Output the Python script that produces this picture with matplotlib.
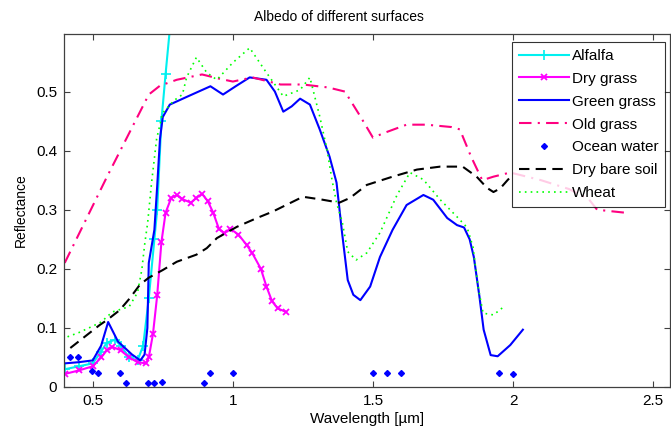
import matplotlib
matplotlib.use("Agg")
import matplotlib.pyplot as plt

plt.rcParams['font.family'] = ['Liberation Sans', 'DejaVu Sans']

# spectral reflectance curves, wavelength in micrometres
alfalfa_x = [0.40, 0.45, 0.50, 0.53, 0.55, 0.58, 0.60, 0.63, 0.66, 0.68, 0.70,
             0.72, 0.73, 0.745, 0.76, 0.78, 0.80]
alfalfa_y = [0.03, 0.035, 0.04, 0.06, 0.075, 0.08, 0.07, 0.05, 0.045, 0.07, 0.15,
             0.25, 0.30, 0.45, 0.53, 0.63, 0.72]

drygrass_x = [0.40, 0.45, 0.50, 0.53, 0.55, 0.57, 0.60, 0.63, 0.66, 0.69, 0.70,
              0.715, 0.73, 0.745, 0.76, 0.78, 0.80, 0.82, 0.85, 0.87, 0.89, 0.91,
              0.93, 0.95, 0.97, 0.99, 1.02, 1.05, 1.07, 1.10, 1.12, 1.14, 1.16, 1.19]
drygrass_y = [0.022, 0.028, 0.035, 0.05, 0.062, 0.068, 0.062, 0.05, 0.042, 0.04, 0.05,
              0.09, 0.155, 0.245, 0.295, 0.32, 0.325, 0.318, 0.312, 0.32, 0.327, 0.315,
              0.295, 0.268, 0.26, 0.268, 0.258, 0.24, 0.226, 0.2, 0.17, 0.145, 0.133, 0.127]

greengrass_x = [0.40, 0.45, 0.50, 0.53, 0.555, 0.59, 0.64, 0.67, 0.685, 0.695, 0.70,
                0.72, 0.73, 0.74, 0.75, 0.775, 0.84, 0.92, 0.965, 1.01, 1.06, 1.12,
                1.15, 1.18, 1.21, 1.24, 1.275, 1.31, 1.345, 1.37, 1.39, 1.41, 1.43,
                1.455, 1.49, 1.525, 1.57, 1.62, 1.68, 1.715, 1.765, 1.80, 1.825,
                1.845, 1.86, 1.88, 1.895, 1.92, 1.945, 1.99, 2.035]
greengrass_y = [0.04, 0.042, 0.045, 0.07, 0.11, 0.077, 0.055, 0.045, 0.055, 0.1, 0.21,
                0.266, 0.34, 0.42, 0.457, 0.478, 0.492, 0.509, 0.495, 0.509, 0.524, 0.52,
                0.50, 0.466, 0.475, 0.488, 0.478, 0.436, 0.39, 0.346, 0.26, 0.181, 0.156,
                0.147, 0.17, 0.22, 0.266, 0.308, 0.325, 0.317, 0.286, 0.274, 0.27,
                0.25, 0.22, 0.153, 0.097, 0.054, 0.052, 0.071, 0.097]

oldgrass_x = [0.40, 0.55, 0.70, 0.74, 0.80, 0.89, 0.95, 1.00, 1.07, 1.17, 1.25, 1.34,
              1.40, 1.455, 1.50, 1.54, 1.62, 1.69, 1.78, 1.81, 1.85, 1.89, 1.93, 1.99,
              2.10, 2.20, 2.27, 2.30, 2.40]
oldgrass_y = [0.21, 0.355, 0.495, 0.51, 0.52, 0.529, 0.522, 0.517, 0.524, 0.512, 0.512, 0.507,
              0.5, 0.458, 0.422, 0.43, 0.444, 0.444, 0.44, 0.436, 0.39, 0.35, 0.356, 0.363,
              0.35, 0.335, 0.318, 0.30, 0.295]

ocean_x = [0.42, 0.446, 0.497, 0.52, 0.596, 0.62, 0.696, 0.72, 0.746, 0.896, 0.92, 1.0,
           1.5, 1.55, 1.6, 1.95, 2.0]
ocean_y = [0.051, 0.051, 0.027, 0.024, 0.024, 0.007, 0.007, 0.007, 0.009, 0.007, 0.024, 0.024,
           0.024, 0.024, 0.024, 0.024, 0.022]

soil_x = [0.42, 0.525, 0.55, 0.596, 0.632, 0.668, 0.70, 0.75, 0.80, 0.87, 0.907, 0.943,
          1.014, 1.086, 1.143, 1.19, 1.25, 1.32, 1.38, 1.418, 1.478, 1.57, 1.657, 1.74,
          1.82, 1.87, 1.907, 1.93, 1.954, 1.98, 2.0]
soil_y = [0.066, 0.105, 0.113, 0.13, 0.15, 0.173, 0.185, 0.198, 0.212, 0.224, 0.235, 0.252,
          0.271, 0.286, 0.297, 0.308, 0.322, 0.317, 0.312, 0.32, 0.342, 0.356, 0.368, 0.373,
          0.373, 0.356, 0.337, 0.33, 0.336, 0.35, 0.36]

wheat_x = [0.41, 0.45, 0.50, 0.53, 0.57, 0.63, 0.66, 0.675, 0.686, 0.696, 0.71, 0.728,
           0.75, 0.79, 0.82, 0.835, 0.87, 0.907, 0.943, 1.0, 1.06, 1.12, 1.18, 1.24,
           1.275, 1.31, 1.336, 1.354, 1.37, 1.39, 1.41, 1.44, 1.478, 1.525, 1.586,
           1.632, 1.68, 1.74, 1.80, 1.836, 1.857, 1.875, 1.893, 1.93, 1.97]
wheat_y = [0.085, 0.092, 0.103, 0.11, 0.127, 0.136, 0.16, 0.198, 0.244, 0.278, 0.346, 0.42,
           0.464, 0.485, 0.495, 0.524, 0.558, 0.532, 0.52, 0.549, 0.574, 0.532, 0.492, 0.503,
           0.524, 0.458, 0.402, 0.35, 0.312, 0.28, 0.229, 0.215, 0.227, 0.261, 0.325,
           0.363, 0.351, 0.317, 0.288, 0.27, 0.237, 0.17, 0.125, 0.122, 0.137]

x_ticks = [0.5, 1, 1.5, 2, 2.5]
y_ticks = [0, 0.1, 0.2, 0.3, 0.4, 0.5]

fig = plt.figure(figsize=(6.71, 4.34), dpi=100)
ax = fig.add_axes([0.0954, 0.1083, 0.9031, 0.8134])

ax.plot(alfalfa_x, alfalfa_y, '-', color='#00f0f0', lw=1.5, marker='+', ms=7, mew=1.2,
        label='Alfalfa')
ax.plot(drygrass_x, drygrass_y, '-', color='#ff00ff', lw=1.5, marker='x', ms=4.5, mew=1.3,
        label='Dry grass')
ax.plot(greengrass_x, greengrass_y, '-', color='#0000ff', lw=1.5, label='Green grass')
ax.plot(oldgrass_x, oldgrass_y, color='#ff0080', lw=1.5, dashes=(6, 3, 1, 3),
        label='Old grass')
ax.plot(ocean_x, ocean_y, 'D', color='#0000ff', ms=3, ls='none', label='Ocean water')
ax.plot(soil_x, soil_y, color='black', lw=1.5, dashes=(5, 3), label='Dry bare soil')
ax.plot(wheat_x, wheat_y, color='#00ff00', lw=1.2, dashes=(1, 2.5), label='Wheat')

ax.set_xlim(0.3975, 2.56)
ax.set_ylim(0, 0.5975)
ax.set_xticks(x_ticks)
ax.set_xticklabels(['0.5', '1', '1.5', '2', '2.5'])
ax.set_yticks(y_ticks)
ax.set_yticklabels(['0', '0.1', '0.2', '0.3', '0.4', '0.5'])
ax.tick_params(direction='in', length=4.5, width=0.8, color='#404040', labelsize=11,
               top=True, right=True, pad=5)
for sp in ax.spines.values():
    sp.set_color('#404040')
    sp.set_linewidth(0.9)

ax.set_title('Albedo of different surfaces', fontsize=10, pad=9, x=0.454)
ax.set_xlabel('Wavelength [µm]', fontsize=11, labelpad=3)
ax.set_ylabel('Reflectance', fontsize=10, labelpad=6)

leg = ax.legend(loc='upper left', bbox_to_anchor=(0.739, 0.977), borderaxespad=0,
                fontsize=11, frameon=True, fancybox=False, handlelength=3.27,
                handletextpad=0.2, labelspacing=0.58, borderpad=0.45)
leg.get_frame().set_edgecolor('black')
leg.get_frame().set_linewidth(0.8)

fig.savefig('out.png', dpi=100)
